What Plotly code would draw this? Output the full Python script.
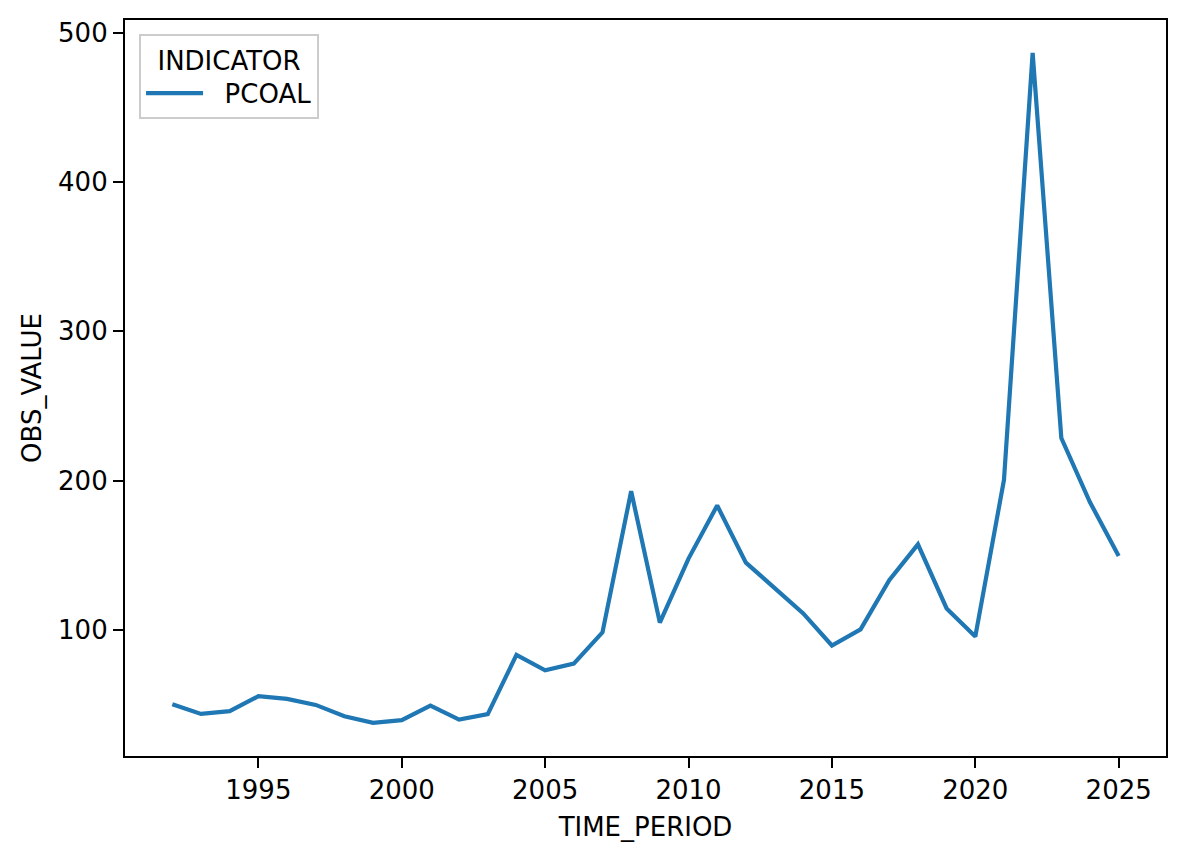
import plotly.graph_objects as go

years = list(range(1992, 2026))
obs_value = [50.2, 43.8, 45.6, 55.6, 53.8, 49.8, 42.2, 37.8, 39.6, 49.3,
             40.0, 43.6, 83.3, 73.0, 77.5, 98.4, 192.9, 104.9, 147.8, 183.3,
             145.1, 127.8, 111.1, 89.6, 100.4, 133.3, 157.3, 114.4, 95.6, 200.4,
             486.3, 228.5, 185.5, 149.5]
indicator = "PCOAL"

font = "DejaVu Sans"
fsize = 26

fig = go.Figure()
fig.add_trace(go.Scatter(
    x=years, y=obs_value, mode="lines", name="\u00a0\u00a0" + indicator,
    line=dict(color="#1f77b4", width=4.2)
))

axis_style = dict(
    showgrid=False, zeroline=False,
    showline=True, linecolor="black", linewidth=2.2, mirror=True,
    ticks="outside", ticklen=10, tickwidth=2.2, tickcolor="black",
    tickfont=dict(family=font, size=fsize, color="black"),
)

fig.update_layout(
    width=1178, height=850,
    margin=dict(l=117, r=20, t=10, b=102),
    paper_bgcolor="white", plot_bgcolor="white",
    font=dict(family=font, size=fsize, color="black"),
    xaxis=dict(
        range=[1990.35, 2026.65], tickvals=[1995, 2000, 2005, 2010, 2015, 2020, 2025],
        title=dict(text="TIME_PERIOD", standoff=14, font=dict(size=fsize)),
        **axis_style
    ),
    yaxis=dict(
        range=[15.6, 508.4], tickvals=[100, 200, 300, 400, 500],
        title=dict(text="OBS_VALUE", standoff=9, font=dict(size=fsize)),
        **axis_style
    ),
    legend=dict(
        x=0.0135, y=0.981, xanchor="left", yanchor="top",
        bgcolor="rgba(255,255,255,0.8)", bordercolor="#cccccc", borderwidth=2,
        title=dict(text="INDICATOR", side="top center", font=dict(size=fsize)),
        font=dict(size=fsize), itemwidth=57,
    ),
    showlegend=True,
)

fig.write_html("out.html")
